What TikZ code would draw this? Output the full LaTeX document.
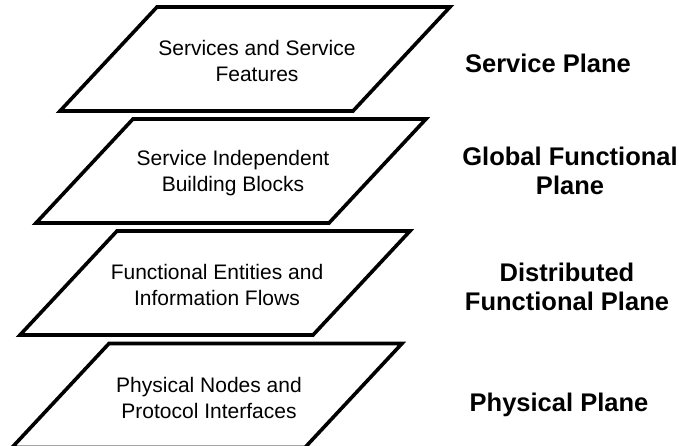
\documentclass[tikz,border=0pt]{standalone}
\usepackage{fontspec}
\setmainfont{Liberation Sans}
\usetikzlibrary{positioning}

\tikzset{
  plane/.style={line width=3.6pt, fill=white},
  planetext/.style={align=center, font=\fontsize{21}{26}\selectfont},
  planelabel/.style={align=center, font=\bfseries\fontsize{25.5}{29.5}\selectfont},
}

\begin{document}
\begin{tikzpicture}[x=1pt,y=-1pt]
 \useasboundingbox (0,0) rectangle (679,446);
 % the four planes, each given by its lower left corner
 \foreach \bx/\by/\n in {60/111/1, 36/223/2, 20/335/3, 12/447.5/4} {
   \draw[plane] (\bx,\by) -- ++(293,0) -- ++(97,-104) -- ++(-293,0) -- cycle;
   \coordinate (c\n) at (\bx+197,\by-50);
 }
 \node[planetext] (svc) at (c1) {Services and Service\\Features};
 \node[planetext] (sib) at (c2) {Service Independent\\Building Blocks};
 \node[planetext] (fe)  at (c3) {Functional Entities and\\Information Flows};
 \node[planetext] (pn)  at (c4) {Physical Nodes and\\Protocol Interfaces};
 % plane names
 \node[planelabel] (sp)  at (548,63)  {Service Plane};
 \node[planelabel] (gfp) at (570,171) {Global Functional\\Plane};
 \node[planelabel] (dfp) at (567,287) {Distributed\\Functional Plane};
 \node[planelabel] (pp)  at (559,405) {Physical Plane};
\end{tikzpicture}
\end{document}
